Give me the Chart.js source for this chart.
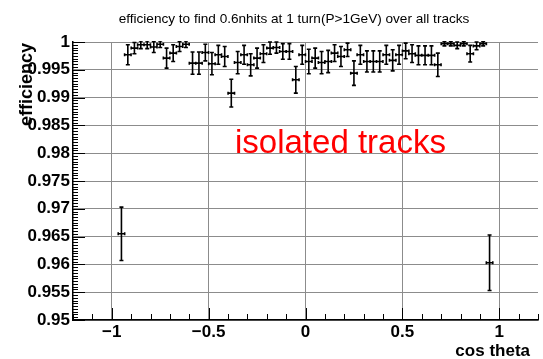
<!DOCTYPE html>
<html>
<head>
<meta charset="utf-8">
<script src="https://cdn.jsdelivr.net/npm/chart.js@4.4.1/dist/chart.umd.min.js"></script>
<style>
  html, body { margin: 0; padding: 0; background: #fff; }
</style>
</head>
<body>
<canvas id="c" width="543" height="359"></canvas>
<script>
// bin centres in cos theta (60 bins over -1..1), efficiency and its error
const cosTheta = [
  -0.950, -0.917, -0.883, -0.850, -0.817, -0.783, -0.750, -0.717, -0.683, -0.650,
  -0.617, -0.583, -0.550, -0.517, -0.483, -0.450, -0.417, -0.383, -0.350, -0.317,
  -0.283, -0.250, -0.217, -0.183, -0.150, -0.117, -0.083, -0.050, -0.017,  0.017,
   0.050,  0.083,  0.117,  0.150,  0.183,  0.217,  0.250,  0.283,  0.317,  0.350,
   0.383,  0.417,  0.450,  0.483,  0.517,  0.550,  0.583,  0.617,  0.650,  0.683,
   0.717,  0.750,  0.783,  0.817,  0.850,  0.883,  0.917,  0.950
];
const efficiency = [
  0.9655, 0.9977, 0.9989, 0.9995, 0.9995, 0.9991, 0.9996, 0.9971, 0.9980, 0.9992,
  0.9996, 0.9962, 0.9962, 0.9981, 0.9961, 0.9977, 0.9974, 0.9908, 0.9963, 0.9977,
  0.9959, 0.9971, 0.9979, 0.9989, 0.9990, 0.9983, 0.9983, 0.9932, 0.9977, 0.9965,
  0.9971, 0.9963, 0.9965, 0.9980, 0.9974, 0.9986, 0.9944, 0.9977, 0.9965, 0.9965,
  0.9965, 0.9977, 0.9967, 0.9977, 0.9984, 0.9979, 0.9976, 0.9976, 0.9976, 0.9959,
  0.9997, 0.9997, 0.9994, 0.9997, 0.9979, 0.9993, 0.9997, 0.9603
];
const effError = [
  0.0048, 0.0018, 0.0010, 0.0007, 0.0007, 0.0010, 0.0006, 0.0018, 0.0015, 0.0009,
  0.0006, 0.0020, 0.0020, 0.0015, 0.0020, 0.0017, 0.0018, 0.0025, 0.0020, 0.0017,
  0.0020, 0.0018, 0.0016, 0.0011, 0.0010, 0.0014, 0.0014, 0.0024, 0.0017, 0.0022,
  0.0018, 0.0020, 0.0020, 0.0015, 0.0018, 0.0012, 0.0022, 0.0017, 0.0019, 0.0019,
  0.0019, 0.0017, 0.0019, 0.0017, 0.0014, 0.0016, 0.0017, 0.0017, 0.0017, 0.0021,
  0.0004, 0.0004, 0.0006, 0.0004, 0.0015, 0.0007, 0.0004, 0.0050
];
const binWidth = 0.0333;

const xTicks = [-1, -0.5, 0, 0.5, 1];
const yTicks = [0.95, 0.955, 0.96, 0.965, 0.97, 0.975, 0.98, 0.985, 0.99, 0.995, 1];

const titleText = 'efficiency to find 0.6nhits at 1 turn(P>1GeV) over all tracks';
const xTitle = 'cos theta';
const yTitle = 'efficiency';
const note = 'isolated tracks';

const labelFont = { family: 'Liberation Sans', size: 17, weight: 'bold' };

// error bars: horizontal bar = bin width, vertical bar = error
const errorBars = {
  id: 'errorBars',
  afterDatasetsDraw(chart) {
    const { ctx, chartArea: a, scales: { x, y } } = chart;
    ctx.save();
    ctx.beginPath();
    ctx.rect(a.left, a.top - 1, a.right - a.left, a.bottom - a.top + 1);
    ctx.clip();
    ctx.strokeStyle = '#000';
    ctx.lineWidth = 1.6;
    ctx.beginPath();
    cosTheta.forEach((c, i) => {
      const px = x.getPixelForValue(c);
      const x0 = x.getPixelForValue(c - binWidth / 2);
      const x1 = x.getPixelForValue(c + binWidth / 2);
      const py = y.getPixelForValue(efficiency[i]);
      const y0 = y.getPixelForValue(efficiency[i] + effError[i]);
      const y1 = y.getPixelForValue(efficiency[i] - effError[i]);
      ctx.moveTo(x0, py); ctx.lineTo(x1, py);
      ctx.moveTo(px, y0); ctx.lineTo(px, y1);
      ctx.moveTo(px - 2, y0); ctx.lineTo(px + 2, y0);
      ctx.moveTo(px - 2, y1); ctx.lineTo(px + 2, y1);
      ctx.moveTo(x0, py - 1.5); ctx.lineTo(x0, py + 1.5);
      ctx.moveTo(x1, py - 1.5); ctx.lineTo(x1, py + 1.5);
    });
    ctx.stroke();
    ctx.restore();
  }
};

// ROOT style ticks inside the frame + texts
const decorations = {
  id: 'decorations',
  afterDraw(chart) {
    const { ctx, chartArea: a, scales: { x, y } } = chart;
    ctx.save();
    ctx.strokeStyle = '#000';
    ctx.lineWidth = 1;
    ctx.beginPath();
    for (let i = -12; i <= 12; i++) {
      const v = i / 10;
      const px = Math.round(x.getPixelForValue(v)) + 0.5;
      const len = (i % 5 === 0) ? 12 : 6;
      ctx.moveTo(px, a.bottom); ctx.lineTo(px, a.bottom - len);
    }
    for (let i = 0; i <= 100; i++) {
      const v = 0.95 + i * 0.0005;
      const py = Math.round(y.getPixelForValue(v)) + 0.5;
      const len = (i % 10 === 0) ? 12 : 5;
      ctx.moveTo(a.left, py); ctx.lineTo(a.left + len, py);
    }
    ctx.stroke();

    ctx.fillStyle = '#000';
    ctx.font = '13.6px "Liberation Sans"';
    ctx.textAlign = 'center';
    ctx.textBaseline = 'middle';
    ctx.fillText(titleText, 294, 19);

    ctx.font = 'bold 17px "Liberation Sans"';
    ctx.textAlign = 'right';
    ctx.fillText(xTitle, 530, 351);

    ctx.save();
    ctx.font = 'bold 18px "Liberation Sans"';
    ctx.translate(27, 43);
    ctx.rotate(-Math.PI / 2);
    ctx.textAlign = 'right';
    ctx.fillText(yTitle, 0, 0);
    ctx.restore();

    ctx.fillStyle = '#ff0000';
    ctx.font = '33px "Liberation Sans"';
    ctx.textAlign = 'left';
    ctx.textBaseline = 'alphabetic';
    ctx.fillText(note, 235, 153);
    ctx.restore();
  }
};

new Chart(document.getElementById('c'), {
  type: 'scatter',
  data: {
    datasets: [{
      data: cosTheta.map((c, i) => ({ x: c, y: efficiency[i] })),
      pointRadius: 0,
      showLine: false
    }]
  },
  options: {
    responsive: false,
    animation: false,
    devicePixelRatio: 1,
    layout: { padding: { top: 42, right: 5, left: 0, bottom: 0 } },
    plugins: { legend: { display: false }, tooltip: { enabled: false } },
    scales: {
      x: {
        type: 'linear', min: -1.2, max: 1.2,
        afterBuildTicks: s => { s.ticks = xTicks.map(v => ({ value: v })); },
        afterFit: s => { s.height = 39; },
        grid: { color: '#8c8c8c', lineWidth: 1, drawTicks: false },
        border: { color: '#000', width: 1.5 },
        ticks: {
          font: labelFont, color: '#000', padding: 2, autoSkip: false, maxRotation: 0,
          callback: v => String(v).replace('-', '\u2212')
        }
      },
      y: {
        type: 'linear', min: 0.95, max: 1.0,
        afterBuildTicks: s => { s.ticks = yTicks.map(v => ({ value: v })); },
        afterFit: s => { s.width = 73; },
        grid: { color: '#8c8c8c', lineWidth: 1, drawTicks: false },
        border: { color: '#000', width: 1.5 },
        ticks: {
          font: labelFont, color: '#000', padding: 3, autoSkip: false,
          callback: v => String(parseFloat(v.toFixed(3)))
        }
      }
    }
  },
  plugins: [errorBars, decorations]
});
</script>
</body>
</html>
